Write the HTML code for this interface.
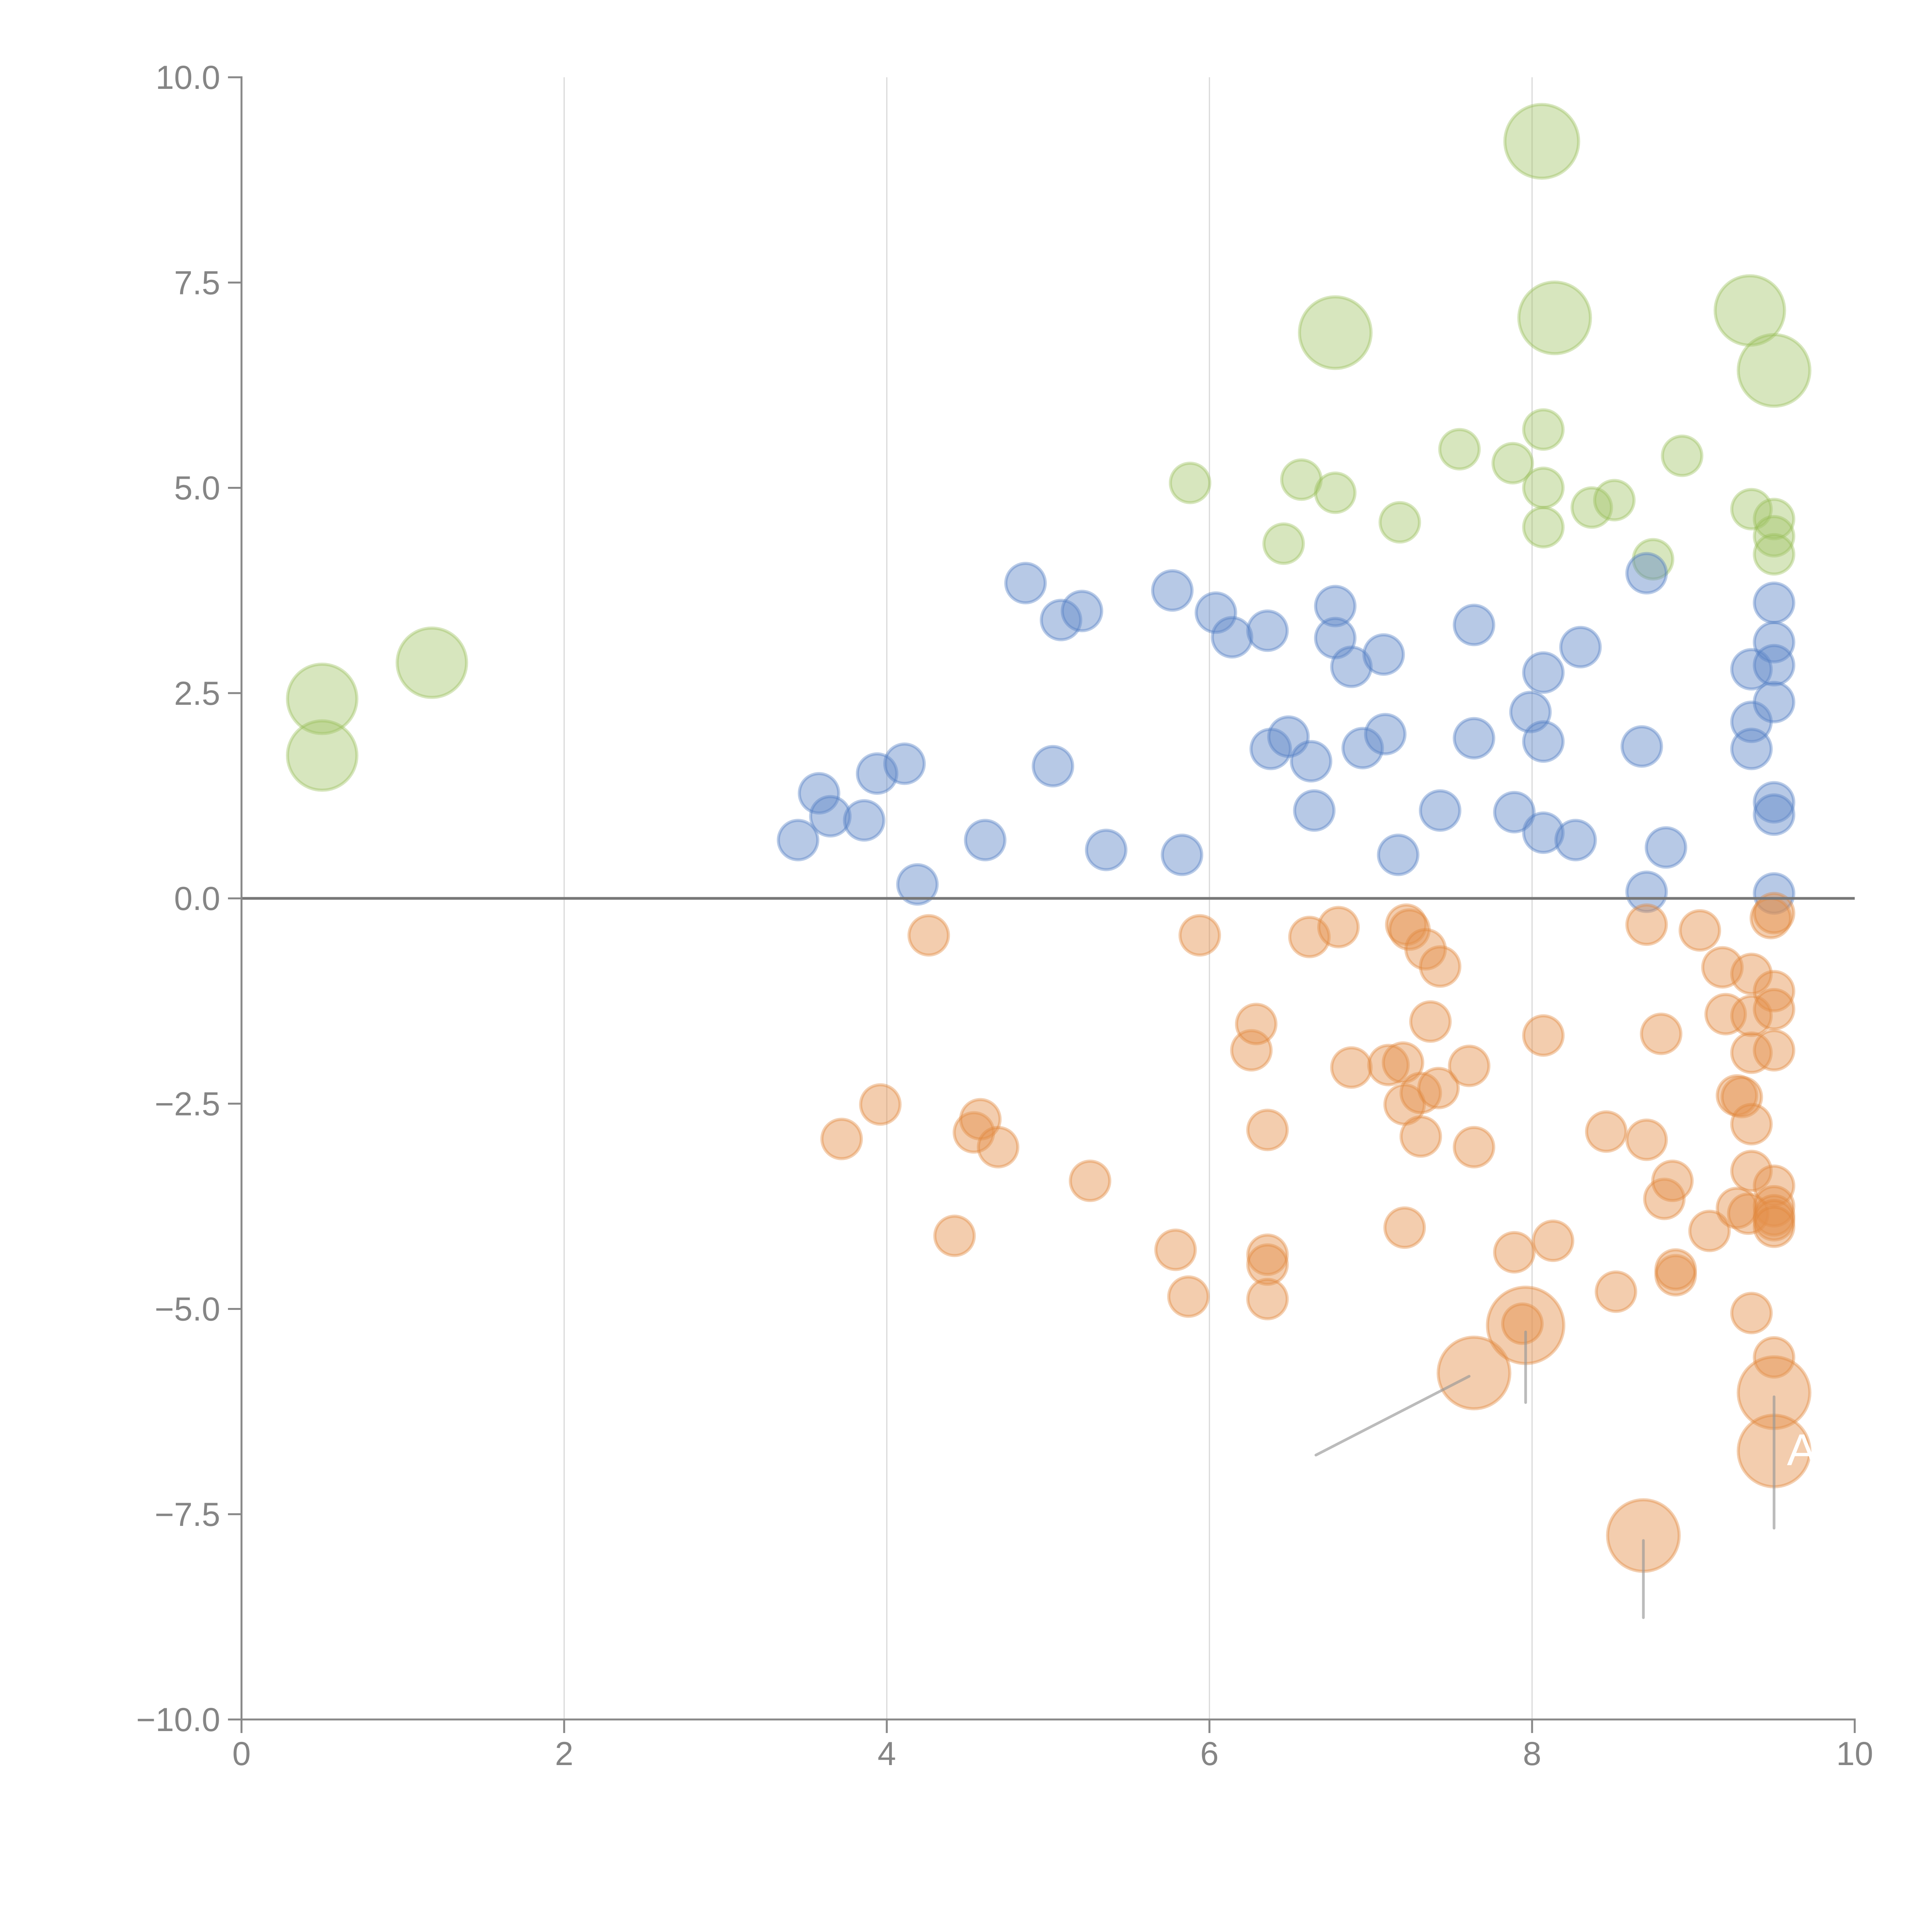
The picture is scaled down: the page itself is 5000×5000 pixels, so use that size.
<!DOCTYPE html>
<html><head><meta charset="utf-8"><style>
html,body{margin:0;padding:0;background:#fff;width:5000px;height:5000px;overflow:hidden}
svg{display:block}
svg text{font-family:"Liberation Sans",sans-serif}
</style></head><body>
<svg id="chart" width="5000" height="5000" viewBox="0 0 5000 5000" xmlns="http://www.w3.org/2000/svg">
<g id="grid"></g>
<g id="marks"></g>
<g id="annos"></g>
<g id="axes"></g>
</svg>
<script>
const xTicks=[0,2,4,6,8,10];
const yTicks=[-10,-7.5,-5,-2.5,0,2.5,5,7.5,10];
const yTickLabels=["\u221210.0","\u22127.5","\u22125.0","\u22122.5","0.0","2.5","5.0","7.5","10.0"];
const blueX=[3.45,3.58,3.65,3.86,3.94,4.11,4.19,4.61,4.86,5.03,5.08,5.21,5.36,5.77,5.83,6.04,6.14,6.36,6.38,6.49,6.63,6.65,6.78,6.78,6.88,6.95,7.08,7.09,7.17,7.43,7.64,7.64,7.89,7.99,8.07,8.07,8.07,8.27,8.3,8.68,8.71,8.71,8.83,9.36,9.36,9.36,9.5,9.5,9.5,9.5,9.5,9.5,9.5];
const blueY=[0.71,1.28,1.0,0.95,1.52,1.64,0.17,0.71,3.84,1.61,3.39,3.5,0.59,3.75,0.53,3.48,3.18,3.26,1.82,1.97,1.67,1.07,3.56,3.17,2.82,1.83,2.97,2.0,0.53,1.07,3.33,1.95,1.05,2.27,2.75,1.91,0.8,0.71,3.06,1.85,3.96,0.08,0.62,2.79,2.15,1.82,3.6,3.12,2.84,2.39,1.17,1.02,0.06];
const greenX=[5.88,6.46,6.57,6.78,7.18,7.55,7.88,8.07,8.07,8.07,8.37,8.51,8.75,8.93,9.36,9.5,9.5,9.5,8.06,6.78,8.14,9.35,9.5,0.5,1.18,0.5];
const greenY=[5.06,4.32,5.1,4.94,4.58,5.47,5.3,5.71,5.0,4.52,4.76,4.85,4.13,5.39,4.74,4.62,4.41,4.19,9.22,6.89,7.07,7.16,6.43,2.43,2.87,1.74];
const greenSize=[1,1,1,1,1,1,1,1,1,1,1,1,1,1,1,1,1,1,3.5,3.3,3.3,3.1,3.3,3.1,3.1,3.1];
const orangeX=[3.72,3.96,4.26,4.42,4.54,4.58,4.69,5.26,5.79,5.87,5.94,6.26,6.29,6.36,6.36,6.36,6.36,6.62,6.8,6.88,7.11,7.2,7.21,7.21,7.22,7.24,7.31,7.31,7.34,7.37,7.42,7.43,7.61,7.64,7.89,8.07,8.13,8.46,8.52,8.71,8.71,8.8,8.82,8.87,8.89,8.89,9.04,9.1,9.18,9.2,9.27,9.3,9.27,9.36,9.36,9.36,9.36,9.36,9.34,9.36,9.48,9.5,9.5,9.5,9.5,9.5,9.5,9.5,9.5,9.5,9.5,7.64,7.96,9.5,9.5,8.69,7.94];
const orangeY=[-2.93,-2.51,-0.45,-4.11,-2.85,-2.69,-3.03,-3.44,-4.28,-4.85,-0.45,-1.85,-1.53,-2.82,-4.34,-4.46,-4.88,-0.47,-0.35,-2.06,-2.03,-2.0,-4.01,-2.51,-0.32,-0.38,-2.9,-2.37,-0.62,-1.5,-2.31,-0.83,-2.04,-3.03,-4.31,-1.67,-4.17,-2.84,-4.79,-0.32,-2.94,-1.65,-3.66,-3.44,-4.59,-4.52,-0.39,-4.05,-0.84,-1.41,-2.4,-2.42,-3.77,-0.92,-1.43,-1.88,-2.75,-3.32,-3.84,-5.05,-0.24,-0.18,-1.13,-1.35,-1.85,-3.5,-3.75,-3.86,-3.92,-4.0,-5.59,-5.78,-5.2,-6.02,-6.73,-7.76,-5.18];
const orangeSize=[1,1,1,1,1,1,1,1,1,1,1,1,1,1,1,1,1,1,1,1,1,1,1,1,1,1,1,1,1,1,1,1,1,1,1,1,1,1,1,1,1,1,1,1,1,1,1,1,1,1,1,1,1,1,1,1,1,1,1,1,1,1,1,1,1,1,1,1,1,1,1,3.3,3.75,3.3,3.3,3.3,1];
const annoX1=[6.66,7.96,9.5,8.69];
const annoY1=[-6.78,-6.14,-7.67,-8.76];
const annoX2=[7.61,7.96,9.5,8.69];
const annoY2=[-5.82,-5.28,-6.07,-7.82];

const X0=625,X1=4800,Y0=4450,Y1=200;
const sx=v=>X0+(v-0)/(10-0)*(X1-X0);
const sy=v=>Y0-(v+10)/20*(Y0-Y1);
const sr=v=>51*Math.sqrt(v);
const NS="http://www.w3.org/2000/svg";
function mk(tag,parent,attrs){const e=document.createElementNS(NS,tag);for(const k in attrs)e.setAttribute(k,attrs[k]);parent.appendChild(e);return e;}
const grid=document.getElementById('grid'),marks=document.getElementById('marks'),annos=document.getElementById('annos'),axes=document.getElementById('axes');

[2,4,6,8].forEach(t=>{const l=mk('line',grid,{x1:sx(t),x2:sx(t),y1:Y1,y2:Y0,stroke:'#d8d8d8','stroke-width':3});

});

function series(xs,ys,ss,fill,stroke,name){xs.forEach((x,i)=>{const c=mk('circle',marks,{cx:sx(x),cy:sy(ys[i]),r:sr(ss?ss[i]:1),fill:fill,stroke:stroke,'stroke-width':8});

});}
series(greenX,greenY,greenSize,'rgba(160,195,100,0.42)','rgba(150,190,85,0.38)','green');
series(blueX,blueY,null,'rgba(95,135,200,0.45)','rgba(80,125,195,0.4)','blue');
series(orangeX,orangeY,orangeSize,'rgba(228,145,75,0.45)','rgba(225,135,60,0.4)','orange');

annoX1.forEach((x,i)=>{const l=mk('line',annos,{x1:sx(x),y1:sy(annoY1[i]),x2:sx(annoX2[i]),y2:sy(annoY2[i]),stroke:'rgba(150,150,150,0.65)','stroke-width':7,'stroke-linecap':'round'});

});
const ta=mk('text',annos,{x:sx(9.58),y:sy(-6.9),fill:'#fff','font-size':115});ta.textContent='A';



const zl=mk('line',axes,{x1:X0,x2:X1,y1:sy(0),y2:sy(0),stroke:'#777','stroke-width':7});


const ya=mk('path',axes,{d:`M${X0-35},${Y1} H${X0} V${Y0}`,fill:'none',stroke:'#888','stroke-width':5});


const xa=mk('path',axes,{d:`M${X0},${Y0} H${X1} V${Y0+35}`,fill:'none',stroke:'#888','stroke-width':5});


yTicks.forEach((t,i)=>{mk('line',axes,{x1:X0-35,x2:X0,y1:sy(t),y2:sy(t),stroke:'#888','stroke-width':5});
const tx=mk('text',axes,{x:X0-55,y:sy(t)+30,'text-anchor':'end',fill:'#858585','font-size':86});tx.textContent=yTickLabels[i];

});
xTicks.forEach(t=>{mk('line',axes,{x1:sx(t),x2:sx(t),y1:Y0,y2:Y0+35,stroke:'#888','stroke-width':5});
const tx=mk('text',axes,{x:sx(t),y:Y0+118,'text-anchor':'middle',fill:'#858585','font-size':86});tx.textContent=String(t);

});
</script>
</body></html>
